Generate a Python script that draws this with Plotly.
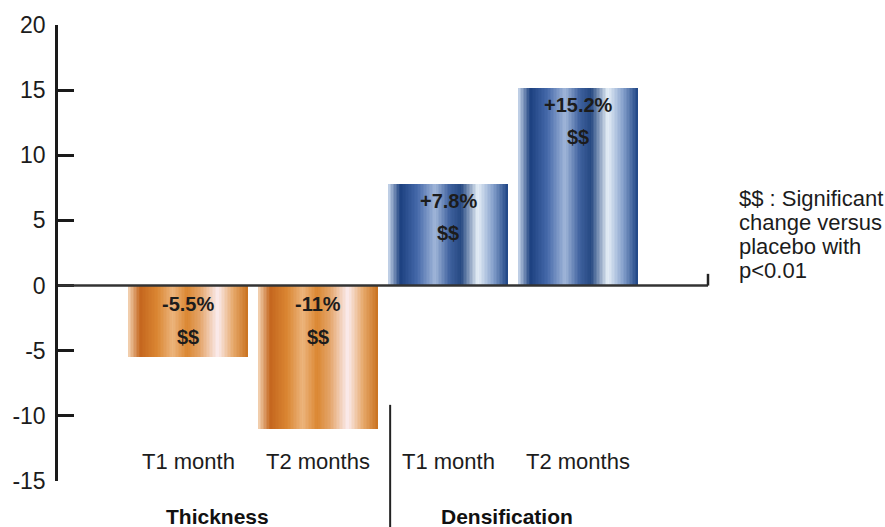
import plotly.graph_objects as go

# ---- data -------------------------------------------------------------
categories = ["T1 month", "T2 months", "T1 month", "T2 months"]
groups = ["Thickness", "Thickness", "Densification", "Densification"]
values = [-5.5, -11.0, 7.8, 15.2]
sig_marks = ["$$", "$$", "$$", "$$"]
group_names = ["Thickness", "Densification"]
y_ticks = [-15, -10, -5, 0, 5, 10, 15, 20]
note_lines = ["$$ : Significant", "change versus", "placebo with", "p<0.01"]

positions = list(range(len(categories)))
BAR_W = 0.92
N_STRIPES = 80

# cylindrical shading stops (fraction across bar, hex colour)
ORANGE_STOPS = [
    (0.00, "#f4d4b4"), (0.10, "#c4661e"), (0.24, "#da8632"), (0.37, "#ecb47c"),
    (0.49, "#db8732"), (0.60, "#e4a468"), (0.75, "#fbecee"), (0.88, "#e6a86a"),
    (1.00, "#ca721f"),
]
BLUE_STOPS = [
    (0.00, "#c9d8ec"), (0.10, "#1c407f"), (0.24, "#4468a9"), (0.39, "#a0b6d9"),
    (0.51, "#40629f"), (0.61, "#264982"), (0.75, "#e6eff7"), (0.88, "#839fcb"),
    (1.00, "#1f4585"),
]


def _hex(c):
    return tuple(int(c[i:i + 2], 16) for i in (1, 3, 5))


def shade(stops, t):
    for (t0, c0), (t1, c1) in zip(stops, stops[1:]):
        if t0 <= t <= t1:
            f = (t - t0) / (t1 - t0) if t1 > t0 else 0
            a, b = _hex(c0), _hex(c1)
            return "rgb(%d,%d,%d)" % tuple(round(a[i] + (b[i] - a[i]) * f) for i in range(3))
    return stops[-1][1]


fig = go.Figure()

# each bar is built from thin vertical stripes to give the cylinder look
step = BAR_W / N_STRIPES
for k in range(N_STRIPES):
    t = (k + 0.5) / N_STRIPES
    cols = [shade(ORANGE_STOPS if g == "Thickness" else BLUE_STOPS, t) for g in groups]
    w = step * (1.0 if k == N_STRIPES - 1 else 1.8)
    fig.add_trace(go.Bar(
        x=positions, y=values,
        width=[w] * len(values),
        offset=[-BAR_W / 2 + k * step] * len(values),
        marker=dict(color=cols, line=dict(width=0)),
        hoverinfo="skip", showlegend=False,
    ))

TXT = "#1c1c1c"
FONT = "Liberation Sans"
annotations = []
for p, v, m in zip(positions, values, sig_marks):
    ref = v if v > 0 else 0
    annotations.append(dict(x=p, y=ref, xref="x", yref="y", text="<b>%+g%%</b>" % v,
                            showarrow=False, yshift=-17 if v > 0 else -18,
                            font=dict(family=FONT, size=20, color=TXT)))
    annotations.append(dict(x=p, y=ref, xref="x", yref="y", text="<b>%s</b>" % m,
                            showarrow=False, yshift=-49 if v > 0 else -51,
                            font=dict(family=FONT, size=20, color=TXT)))

# category names under the bars
for p, c in zip(positions, categories):
    annotations.append(dict(x=p, y=-13.5, xref="x", yref="y", text=c, showarrow=False,
                            font=dict(family=FONT, size=22, color=TXT)))

# group captions below the plot
for gx, g in zip([0.23, 2.45], group_names):
    annotations.append(dict(x=gx, y=-0.077, xref="x", yref="paper", text="<b>%s</b>" % g,
                            showarrow=False, yanchor="middle",
                            font=dict(family=FONT, size=21, color="#111")))

# side note
for i, line in enumerate(note_lines):
    annotations.append(dict(x=1.045, y=0.62 - i * 0.053, xref="paper", yref="paper",
                            text=line, showarrow=False, xanchor="left", yanchor="middle",
                            font=dict(family=FONT, size=22, color=TXT)))

X_RANGE = [-1, 4]
sep_x = 2 - BAR_W / 2 + 0.015
sep_paper = (sep_x - X_RANGE[0]) / (X_RANGE[1] - X_RANGE[0])

shapes = [
    # zero baseline across the plot
    dict(type="line", xref="paper", yref="y", x0=0, x1=1, y0=0, y1=0,
         line=dict(color="#333333", width=2.5), layer="above"),
    # small upturn at its right end
    dict(type="line", xref="paper", yref="y", x0=1, x1=1, y0=0, y1=0.9,
         line=dict(color="#222222", width=2.5), layer="above"),
    # divider between the two groups
    dict(type="line", xref="paper", yref="paper", x0=sep_paper, x1=sep_paper,
         y0=0.167, y1=-0.11, line=dict(color="#222222", width=2)),
]

fig.update_layout(
    width=885, height=527,
    margin=dict(l=57, r=177, t=20, b=46),
    paper_bgcolor="white", plot_bgcolor="white",
    barmode="overlay", bargap=0,
    showlegend=False,
    annotations=annotations, shapes=shapes,
    xaxis=dict(range=X_RANGE, visible=False, fixedrange=True),
    yaxis=dict(range=[-15, 20], tickvals=y_ticks, ticktext=[str(t) for t in y_ticks],
               showgrid=False, zeroline=False,
               showline=True, linecolor="#1a1a1a", linewidth=2.5,
               ticks="inside", ticklen=16, tickwidth=2.5, tickcolor="#1a1a1a",
               ticklabelstandoff=5,
               tickfont=dict(family=FONT, size=23, color=TXT)),
)

fig.write_html("out.html")
